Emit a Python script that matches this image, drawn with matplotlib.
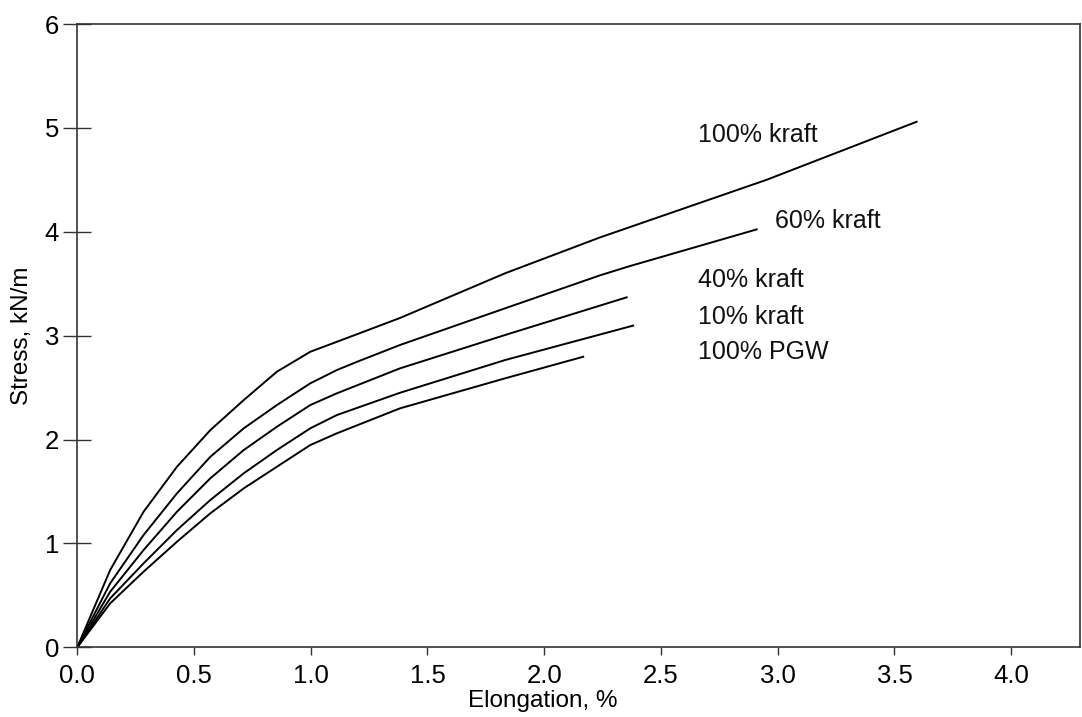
import matplotlib
matplotlib.use("Agg")
import matplotlib.pyplot as plt

plt.rcParams["font.family"] = ["Liberation Sans", "DejaVu Sans"]

# curves: elongation (%) and stress (kN/m)
kraft100_x = [0, 0.141, 0.284, 0.427, 0.570, 0.713, 0.855, 0.998, 1.112, 1.382, 1.832, 2.238, 2.952, 3.595]
kraft100_y = [0, 0.744, 1.305, 1.738, 2.091, 2.380, 2.653, 2.845, 2.941, 3.170, 3.600, 3.945, 4.50, 5.059]

kraft60_x = [0, 0.141, 0.284, 0.427, 0.570, 0.713, 0.855, 0.998, 1.112, 1.20, 1.382, 1.832, 2.238, 2.367, 2.910]
kraft60_y = [0, 0.616, 1.081, 1.482, 1.834, 2.108, 2.332, 2.541, 2.669, 2.75, 2.910, 3.263, 3.580, 3.670, 4.023]

kraft40_x = [0, 0.141, 0.284, 0.427, 0.570, 0.713, 0.855, 0.998, 1.112, 1.382, 1.832, 2.353]
kraft40_y = [0, 0.535, 0.936, 1.305, 1.627, 1.899, 2.123, 2.332, 2.445, 2.685, 3.006, 3.369]

kraft10_x = [0, 0.141, 0.284, 0.427, 0.570, 0.713, 0.855, 0.998, 1.112, 1.382, 1.832, 2.381]
kraft10_y = [0, 0.471, 0.808, 1.129, 1.418, 1.675, 1.899, 2.108, 2.236, 2.450, 2.765, 3.097]

pgw_x = [0, 0.141, 0.284, 0.427, 0.570, 0.713, 0.855, 0.998, 1.112, 1.382, 1.832, 2.167]
pgw_y = [0, 0.423, 0.728, 1.016, 1.290, 1.530, 1.738, 1.947, 2.060, 2.300, 2.589, 2.797]

labels = ["100% kraft", "60% kraft", "40% kraft", "10% kraft", "100% PGW"]
label_x = [2.658, 2.988, 2.658, 2.658, 2.658]
label_y = [4.93, 4.106, 3.535, 3.18, 2.845]

fig = plt.figure(figsize=(10.82, 7.17), dpi=100)
ax = fig.add_axes([0.0714, 0.0972, 0.9266, 0.8693])

for xs, ys in [(kraft100_x, kraft100_y), (kraft60_x, kraft60_y), (kraft40_x, kraft40_y),
               (kraft10_x, kraft10_y), (pgw_x, pgw_y)]:
    ax.plot(xs, ys, color="black", lw=1.4)

for t, x, y in zip(labels, label_x, label_y):
    ax.text(x, y, t, fontsize=18, color="#111111", va="center", ha="left")

ax.set_xlim(0, 4.294)
ax.set_ylim(0, 6)
ax.set_xticks([0.0, 0.5, 1.0, 1.5, 2.0, 2.5, 3.0, 3.5, 4.0])
ax.set_xticklabels(["0.0", "0.5", "1.0", "1.5", "2.0", "2.5", "3.0", "3.5", "4.0"])
ax.set_yticks([0, 1, 2, 3, 4, 5, 6])

ax.tick_params(axis="x", direction="out", length=6, width=1, labelsize=18.5, pad=6, color="#333333")
ax.tick_params(axis="y", direction="inout", length=20, width=1, labelsize=18.5, pad=3, color="#333333")
for s in ax.spines.values():
    s.set_color("#333333")
    s.set_linewidth(1.2)

ax.set_xlabel("Elongation, %", fontsize=17.5)
ax.xaxis.set_label_coords(0.464, -0.069)
ax.set_ylabel("Stress, kN/m", fontsize=17.5)
ax.yaxis.set_label_coords(-0.044, 0.5)

fig.savefig("out.png", dpi=100, facecolor="white")
